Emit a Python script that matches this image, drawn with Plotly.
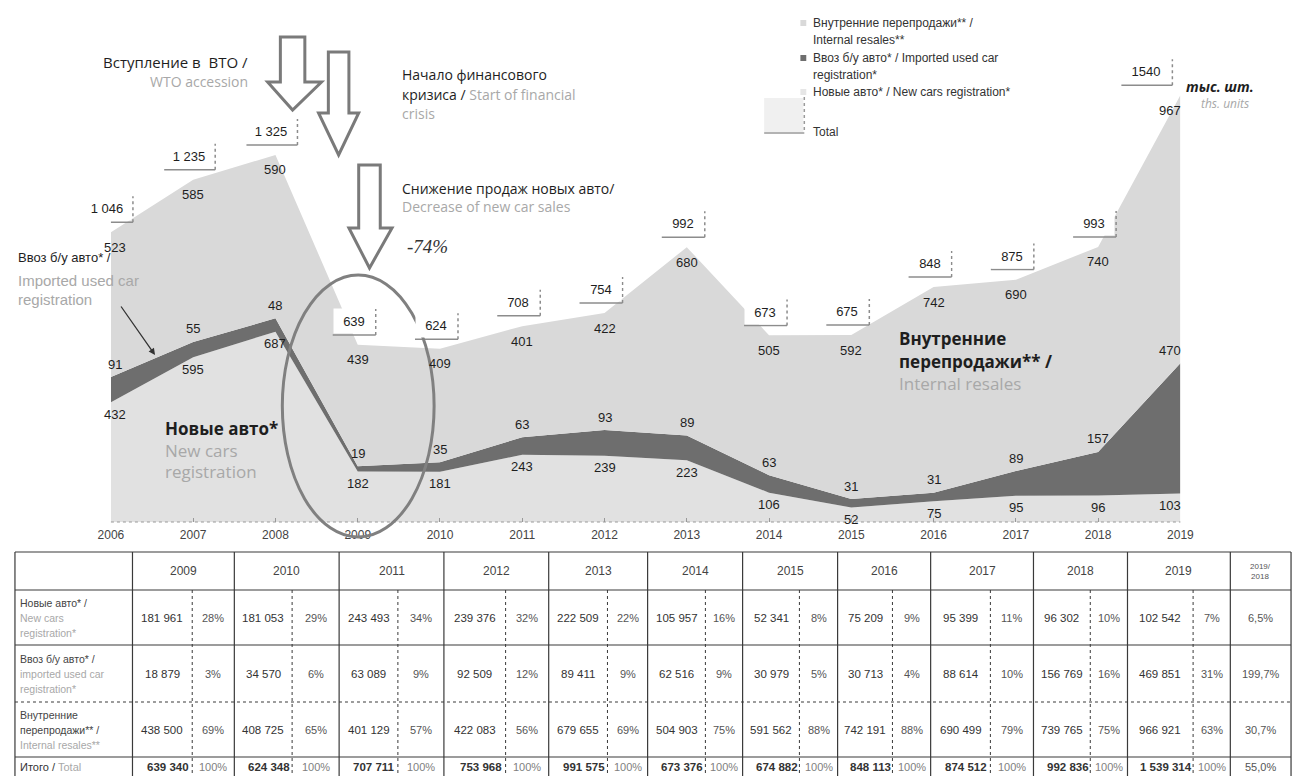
import plotly.graph_objects as go

# ---------------- data ----------------
years = list(range(2006, 2020))
new_cars = [432, 595, 687, 182, 181, 243, 239, 223, 106, 52, 75, 95, 96, 103]
imported_used = [91, 55, 48, 19, 35, 63, 93, 89, 63, 31, 31, 89, 157, 470]
internal_resales = [523, 585, 590, 439, 409, 401, 422, 680, 505, 592, 742, 690, 740, 967]
totals = [1046, 1235, 1325, 639, 624, 708, 754, 992, 673, 675, 848, 875, 993, 1540]
total_text = ["1 046", "1 235", "1 325", "639", "624", "708", "754", "992",
              "673", "675", "848", "875", "993", "1540"]

table_years = [2009, 2010, 2011, 2012, 2013, 2014, 2015, 2016, 2017, 2018, 2019]
tbl_new = [181961, 181053, 243493, 239376, 222509, 105957, 52341, 75209, 95399, 96302, 102542]
tbl_new_pct = [28, 29, 34, 32, 22, 16, 8, 9, 11, 10, 7]
tbl_imported = [18879, 34570, 63089, 92509, 89411, 62516, 30979, 30713, 88614, 156769, 469851]
tbl_imported_pct = [3, 6, 9, 12, 9, 9, 5, 4, 10, 16, 31]
tbl_internal = [438500, 408725, 401129, 422083, 679655, 504903, 591562, 742191, 690499, 739765, 966921]
tbl_internal_pct = [69, 65, 57, 56, 69, 75, 88, 88, 79, 75, 63]
tbl_total = [639340, 624348, 707711, 753968, 991575, 673376, 674882, 848113, 874512, 992836, 1539314]
tbl_total_pct = [100] * 11
growth_19_18 = [6.5, 199.7, 30.7, 55.0]

# ---------------- helpers ----------------
W, H = 1307, 776
DARK = "#1e1e1e"
GRAY = "#a8a8a8"
FONT = "Open Sans"
NUMF = "Liberation Sans"


def px(x):
    return x / W


def py(y):
    return 1 - y / H


ann = []
shapes = []


def text(x, y, t, size=13, color=DARK, anchor="left", family=FONT, yanchor="middle"):
    ann.append(dict(x=px(x), y=py(y), xref="paper", yref="paper", text=t, showarrow=False,
                    xanchor=anchor, yanchor=yanchor,
                    font=dict(size=size, color=color, family=family)))


def line(x0, y0, x1, y1, color="#333", width=1, dash="solid"):
    shapes.append(dict(type="line", xref="paper", yref="paper", x0=px(x0), y0=py(y0),
                       x1=px(x1), y1=py(y1), line=dict(color=color, width=width, dash=dash),
                       layer="above"))


def g(t):
    return f"<span style='color:{GRAY}'>{t}</span>"


def fmt(v):
    return f"{v:,}".replace(",", " ")


# ---------------- chart ----------------
fig = go.Figure()
fig.add_trace(go.Scatter(x=years, y=new_cars, stackgroup="s", mode="lines",
                         line=dict(width=0, color="#e1e1e1"), fillcolor="#e1e1e1",
                         name="Новые авто*", hoverinfo="skip"))
fig.add_trace(go.Scatter(x=years, y=imported_used, stackgroup="s", mode="lines",
                         line=dict(width=0, color="#6e6e6e"), fillcolor="#6e6e6e",
                         name="Ввоз б/у авто*", hoverinfo="skip"))
fig.add_trace(go.Scatter(x=years, y=internal_resales, stackgroup="s", mode="lines",
                         line=dict(width=0, color="#d9d9d9"), fillcolor="#d9d9d9",
                         name="Внутренние перепродажи**", hoverinfo="skip"))

# data labels
last = len(years) - 1
for i, yr in enumerate(years):
    base = new_cars[i]
    mid = base + imported_used[i]
    top = mid + internal_resales[i]
    xs = 4 if i == 0 else (-10 if i == last else 0)
    lab_font = dict(size=13, color=DARK, family=NUMF)
    ann.append(dict(x=yr, y=top, xref="x", yref="y", text=str(internal_resales[i]),
                    showarrow=False, yshift=-15, xshift=xs, font=lab_font))
    ann.append(dict(x=yr, y=mid, xref="x", yref="y", text=str(imported_used[i]),
                    showarrow=False, yshift=13, xshift=xs, font=lab_font))
    ann.append(dict(x=yr, y=base, xref="x", yref="y", text=str(new_cars[i]),
                    showarrow=False, yshift=-12, xshift=xs, font=lab_font))
    # total boxes with right / bottom shadow edges
    dx = -34 if i == last else -4
    dy = 24
    w = 46 if len(total_text[i]) > 3 else 38
    h = 22
    ann.append(dict(x=yr, y=totals[i], xref="x", yref="y", text=total_text[i],
                    showarrow=False, xshift=dx, yshift=dy, width=w, height=h,
                    bgcolor="white", font=dict(size=13, color=DARK, family=NUMF)))
    ex = dx + w / 2 + 3
    eb = dy - h / 2 - 3
    et = dy + h / 2 + 1
    shapes.append(dict(type="line", xref="x", yref="y", xsizemode="pixel", ysizemode="pixel",
                       xanchor=yr, yanchor=totals[i], x0=ex, x1=ex, y0=eb, y1=et,
                       line=dict(color="#8c8c8c", width=1.5, dash="dot"), layer="above"))
    shapes.append(dict(type="line", xref="x", yref="y", xsizemode="pixel", ysizemode="pixel",
                       xanchor=yr, yanchor=totals[i], x0=dx - w / 2 - 2, x1=ex, y0=eb, y1=eb,
                       line=dict(color="#8c8c8c", width=1.5), layer="above"))

# x axis dotted line
shapes.append(dict(type="line", xref="paper", yref="paper", x0=px(100), x1=px(1192),
                   y0=py(522), y1=py(522), line=dict(color="#999", width=1, dash="dot"),
                   layer="above"))


# hollow arrows
def arrow(sl, sr, top, hy, hl, hr, tip):
    tx = (sl + sr) / 2
    pts = [(sl, top), (sr, top), (sr, hy), (hr, hy), (tx, tip), (hl, hy), (sl, hy)]
    path = "M " + " L ".join(f"{px(a):.5f},{py(b):.5f}" for a, b in pts) + " Z"
    shapes.append(dict(type="path", xref="paper", yref="paper", path=path,
                       fillcolor="white", line=dict(color="#7a7a7a", width=3), layer="above"))


arrow(273, 298, 37, 82, 260, 315, 110)
arrow(322, 343, 52, 113, 312, 353, 155)
arrow(353, 375, 165, 228, 343, 387, 268)

# ellipse
shapes.append(dict(type="circle", xref="paper", yref="paper", x0=px(275), x1=px(430),
                   y0=py(537), y1=py(275), line=dict(color="#808080", width=3), layer="above"))

# event texts
text(242, 62, "Вступление в  ВТО /", size=15, anchor="right")
text(242, 82, "WTO accession", size=14, color=GRAY, anchor="right")
text(395, 75, "Начало финансового", size=14)
text(395, 94, "кризиса / " + g("Start of financial"), size=14)
text(395, 113, g("crisis"), size=14)
text(395, 188, "Снижение продаж новых авто/", size=14)
text(395, 207, g("Decrease of new car sales"), size=14)
text(400, 247, "<i>-74%</i>", size=19, color="#333", family="Liberation Serif")

# units
text(1196, 86, "<b><i>тыс. шт.</i></b>", size=14, anchor="left")
text(1264, 104, "<i>ths. units</i>", size=12, color=GRAY, anchor="right")

# legend
leg = [(23, "#d9d9d9", "Внутренние перепродажи** /"), (58, "#6e6e6e", "Ввоз б/у авто* / Imported used car"),
       (92, "#e6e6e6", "Новые авто* / New cars registration*")]
for yy, col, t in leg:
    shapes.append(dict(type="rect", xref="paper", yref="paper", x0=px(804), x1=px(810),
                       y0=py(yy + 3), y1=py(yy - 3), fillcolor=col, line=dict(width=0)))
    text(815, yy, t, size=12, family=NUMF, color="#333")
text(815, 40, "Internal resales**", size=12, family=NUMF, color="#333")
text(815, 75, "registration*", size=12, family=NUMF, color="#333")
text(815, 132, "Total", size=12, family=NUMF, color="#333")
shapes.append(dict(type="rect", xref="paper", yref="paper", x0=px(767), x1=px(807),
                   y0=py(132), y1=py(98), fillcolor="#f0f0f0", line=dict(width=0)))
line(808, 97, 808, 133, color="#9a9a9a", width=1.5, dash="dot")
line(767, 133, 808, 133, color="#9a9a9a", width=1.5)

# inline series labels
text(3, 258, "Ввоз б/у авто* /", size=13, family=NUMF)
text(3, 280, g("Imported used car"), size=15, family=NUMF)
text(3, 300, g("registration"), size=15, family=NUMF)
ann.append(dict(x=px(145), y=py(355), xref="paper", yref="paper", ax=-35, ay=-50, text="",
                showarrow=True, arrowhead=2, arrowsize=1, arrowwidth=1.3, arrowcolor="#333"))
text(153, 428, "<b>Новые авто*</b>", size=17)
text(153, 450, g("New cars"), size=17)
text(153, 472, g("registration"), size=17)
text(903, 338, "<b>Внутренние</b>", size=17)
text(903, 361, "<b>перепродажи** /</b>", size=17)
text(903, 383, g("Internal resales"), size=17)

# ---------------- table ----------------
col_edges = [2, 122, 183, 226, 285, 333, 393, 440, 503, 547, 607, 648, 707, 745, 803,
             842, 898, 937, 998, 1042, 1100, 1138, 1205, 1243, 1305]
row_edges = [552, 590, 645, 702, 757, 790]
TB = "#3a3a3a"
for k, yy in enumerate(row_edges[:-1]):
    line(col_edges[0], yy, col_edges[-1], yy, color=TB, width=1.2,
         dash="dot" if k == 3 else "solid")
for k, xx in enumerate(col_edges):
    if k >= 2 and k % 2 == 0 and k < len(col_edges) - 2:
        line(xx, row_edges[1], xx, row_edges[-1], color=TB, width=1, dash="dot")
    else:
        line(xx, row_edges[0], xx, row_edges[-1], color=TB, width=1.2)

row_c = [(row_edges[i] + row_edges[i + 1]) / 2 for i in range(5)]
row_c[4] = 767
for j, yr in enumerate(table_years):
    x0 = col_edges[1 + 2 * j]
    x1 = col_edges[3 + 2 * j]
    text((x0 + x1) / 2, row_c[0], str(yr), size=12, color="#444", anchor="center", family=NUMF)
text((col_edges[-2] + col_edges[-1]) / 2, row_c[0], "2019/<br>2018", size=8, color="#555",
     anchor="center", family=NUMF)

rows = [(tbl_new, tbl_new_pct), (tbl_imported, tbl_imported_pct),
        (tbl_internal, tbl_internal_pct), (tbl_total, tbl_total_pct)]
for r, (vals, pcts) in enumerate(rows):
    yc = row_c[r + 1]
    for j in range(len(table_years)):
        xa, xb, xc = col_edges[1 + 2 * j], col_edges[2 + 2 * j], col_edges[3 + 2 * j]
        v = fmt(vals[j])
        if r == 3:
            v = f"<b>{v}</b>"
        text((xa + xb) / 2 + (6 if r == 3 else 0), yc, v, size=11.5, color="#333",
             anchor="center", family=NUMF)
        text((xb + xc) / 2, yc, f"{pcts[j]}%", size=11, color="#555555" if r < 3 else "#808080",
             anchor="center", family=NUMF)
    gtxt = f"{growth_19_18[r]:.1f}".replace(".", ",") + "%"
    text((col_edges[-2] + col_edges[-1]) / 2, yc, gtxt, size=11, color="#555555",
         anchor="center", family=NUMF)

row_labels = [["Новые авто* /", g("New cars"), g("registration*")],
              ["Ввоз б/у авто* /", g("imported used car"), g("registration*")],
              ["Внутренние", "перепродажи** /", g("Internal resales**")]]
for r, lines3 in enumerate(row_labels):
    yc = row_c[r + 1]
    for k, t in enumerate(lines3):
        text(5, yc + (k - 1) * 15, t, size=10.5, color="#444", family=NUMF)
text(5, row_c[4], "Итого / " + g("Total"), size=11, color="#333", family=NUMF)

# ---------------- layout ----------------
fig.update_layout(
    width=W, height=H,
    margin=dict(l=0, r=0, t=0, b=0),
    paper_bgcolor="white", plot_bgcolor="white",
    showlegend=False,
    xaxis=dict(domain=[px(100), px(1192)], range=[2006, 2019], tickmode="array",
               tickvals=years, ticktext=[str(y) for y in years], ticks="inside",
               ticklen=4, tickcolor="#999", showgrid=False, zeroline=False, showline=False,
               tickfont=dict(size=12, color="#444", family=NUMF), ticklabelstandoff=4),
    yaxis=dict(domain=[py(522), py(20)], range=[0, 1812], visible=False,
               showgrid=False, zeroline=False),
    annotations=ann,
    shapes=shapes,
)

fig.write_html("out.html", config={"displayModeBar": False},
               post_script="document.body.style.margin='0px';document.body.style.overflow='hidden';")
